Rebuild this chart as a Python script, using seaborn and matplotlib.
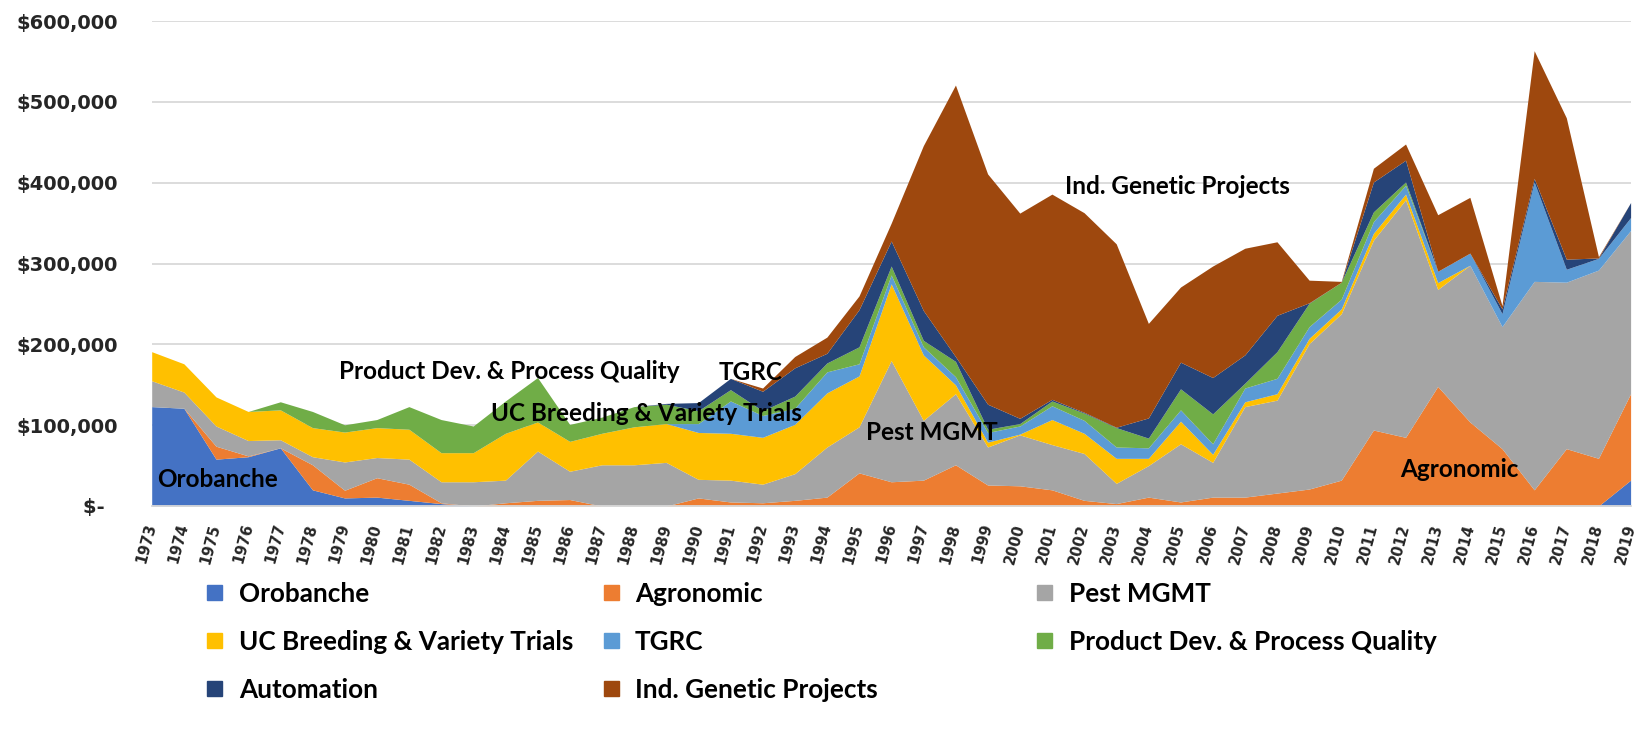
import seaborn as sns
import pandas as pd
import matplotlib.pyplot as plt
import numpy as np
from matplotlib.patches import Rectangle
from matplotlib.ticker import FuncFormatter

years = list(range(1973, 2020))

# values in $1,000
orobanche = [123, 121, 58, 61, 72, 20, 10, 11, 7, 3] + [0] * 36 + [32]
agronomic = [0, 0, 16, 1, 0, 31, 9.5, 24, 20, 1,
             0, 4, 7, 8, 0, 0, 0, 10, 5, 4,
             7, 11, 41, 30, 32, 51, 26, 25, 20, 7,
             3, 11, 5, 11, 11, 16, 21, 32, 94, 85,
             148, 104, 71, 20, 71, 59, 107]
pest_mgmt = [32, 20, 25, 19, 10, 10, 35, 25, 31, 26,
             30, 28, 61, 35, 51, 51, 54, 23, 27, 23,
             33, 62, 57, 150, 74, 88, 47, 63, 56, 58,
             25, 39, 72, 43, 112, 115, 180, 206, 235, 294,
             120, 194, 151, 258, 206, 233, 202]
uc_breeding = [36, 35, 36, 36, 37, 36, 37, 37, 37, 36,
               36, 58, 36, 37, 39, 47, 48, 58, 58, 58,
               61, 67, 63, 95, 81, 11, 6, 1, 31, 25,
               31, 9, 28, 10, 6, 8, 6.5, 6, 8.5, 7,
               8.5, 0, 0, 0, 0, 0, 0]
tgrc = [0] * 17 + [11, 40, 27, 20, 26, 15, 11, 10, 10, 12,
                   10, 17, 16, 14, 13, 14, 13, 17, 19, 14.5,
                   12, 14.5, 11, 14, 15, 16, 123, 16, 14.5, 16]
product_dev = [0, 0, 0, 0, 10, 20, 9, 10, 28, 41,
               33, 40, 55, 21, 20, 25, 24, 16, 14, 6,
               15, 11, 21, 11, 8, 19, 4, 3, 6, 9,
               24, 12, 26, 37, 6, 33, 29, 21, 12, 4,
               0, 0, 0, 0, 0, 0, 0]
automation = [0] * 16 + [1, 10, 14, 24, 35, 12, 46, 31, 37, 6,
                         31, 6.5, 2, 1, 0.5, 25, 33, 45, 35, 45,
                         0.5, 0, 37, 27, 0, 0, 6, 4.5, 12.5, 0.5, 18.6]
ind_genetic = [0] * 19 + [4, 14, 20, 17, 22, 204, 336, 285, 254, 254,
                          247, 227, 117, 93, 138, 132, 91, 28, 1, 17,
                          20, 70, 69, 4, 158, 175, 1.6, 0]

names = ['Orobanche', 'Agronomic', 'Pest MGMT', 'UC Breeding & Variety Trials',
         'TGRC', 'Product Dev. & Process Quality', 'Automation', 'Ind. Genetic Projects']
colors = ['#4472C4', '#ED7D31', '#A5A5A5', '#FFC000',
          '#5B9BD5', '#70AD47', '#264478', '#9E480E']

df = pd.DataFrame({
    names[0]: orobanche, names[1]: agronomic, names[2]: pest_mgmt, names[3]: uc_breeding,
    names[4]: tgrc, names[5]: product_dev, names[6]: automation, names[7]: ind_genetic,
}, index=years) * 1000

sns.set_style('white')
plt.rcParams['font.family'] = ['Lato', 'DejaVu Sans']

W, H = 1648, 734
fig = plt.figure(figsize=(W / 100, H / 100), dpi=100)
ax = fig.add_axes([151.7 / W, 1 - 506 / H, (1630.6 - 151.7) / W, (506 - 21.2) / H])

ax.stackplot(df.index, [df[c] for c in names], colors=colors, linewidth=0)

ax.set_xlim(1973, 2019)
ax.set_ylim(0, 600000)
ax.set_axisbelow(True)
ax.grid(axis='y', color='#D9D9D9', lw=1.3)
ax.grid(axis='x', visible=False)
for s in ['top', 'right', 'left']:
    ax.spines[s].set_visible(False)
ax.spines['bottom'].set_color('#D9D9D9')
ax.spines['bottom'].set_linewidth(1.3)

ax.set_xticks(years)
ax.set_xticklabels([str(y) for y in years], rotation=75, ha='right', va='center',
                   rotation_mode='anchor', fontsize=10.5, fontweight='bold',
                   family='DejaVu Sans')
ax.tick_params(axis='x', length=6, width=1.3, color='#D9D9D9', pad=7)

ax.set_yticks(np.arange(0, 600001, 100000))
ax.yaxis.set_major_formatter(FuncFormatter(lambda v, p: '$-  ' if v == 0 else f'${v:,.0f}'))
ax.tick_params(axis='y', length=0, pad=24)
for t in ax.get_yticklabels():
    t.set_fontsize(14)
    t.set_fontweight('bold')
    t.set_family('DejaVu Sans')

# labels inside the areas
notes = [('Orobanche', 1975.06, 24000),
         ('Product Dev. & Process Quality', 1984.11, 157000),
         ('TGRC', 1991.62, 156000),
         ('UC Breeding & Variety Trials', 1988.39, 105000),
         ('Pest MGMT', 1997.26, 82000),
         ('Ind. Genetic Projects', 2004.9, 386000),
         ('Agronomic', 2013.68, 36000)]
for txt, x, y in notes:
    ax.text(x, y, txt, ha='center', va='baseline', fontsize=17.5,
            fontweight='bold', color='black')

# legend, three columns
col_sq = [207, 604, 1037]
col_txt = [239, 635, 1069]
rows = [592, 640, 688]
sq = 15
for i, (name, c) in enumerate(zip(names, colors)):
    r, k = divmod(i, 3)
    fig.patches.append(Rectangle((col_sq[k] / W, 1 - (rows[r] + sq / 2) / H), sq / W, sq / H,
                                 transform=fig.transFigure, color=c))
    fig.text(col_txt[k] / W, 1 - rows[r] / H, name, va='center_baseline', ha='left',
             fontsize=18.8, fontweight='bold', color='black')

fig.savefig('out.png', dpi=100)
